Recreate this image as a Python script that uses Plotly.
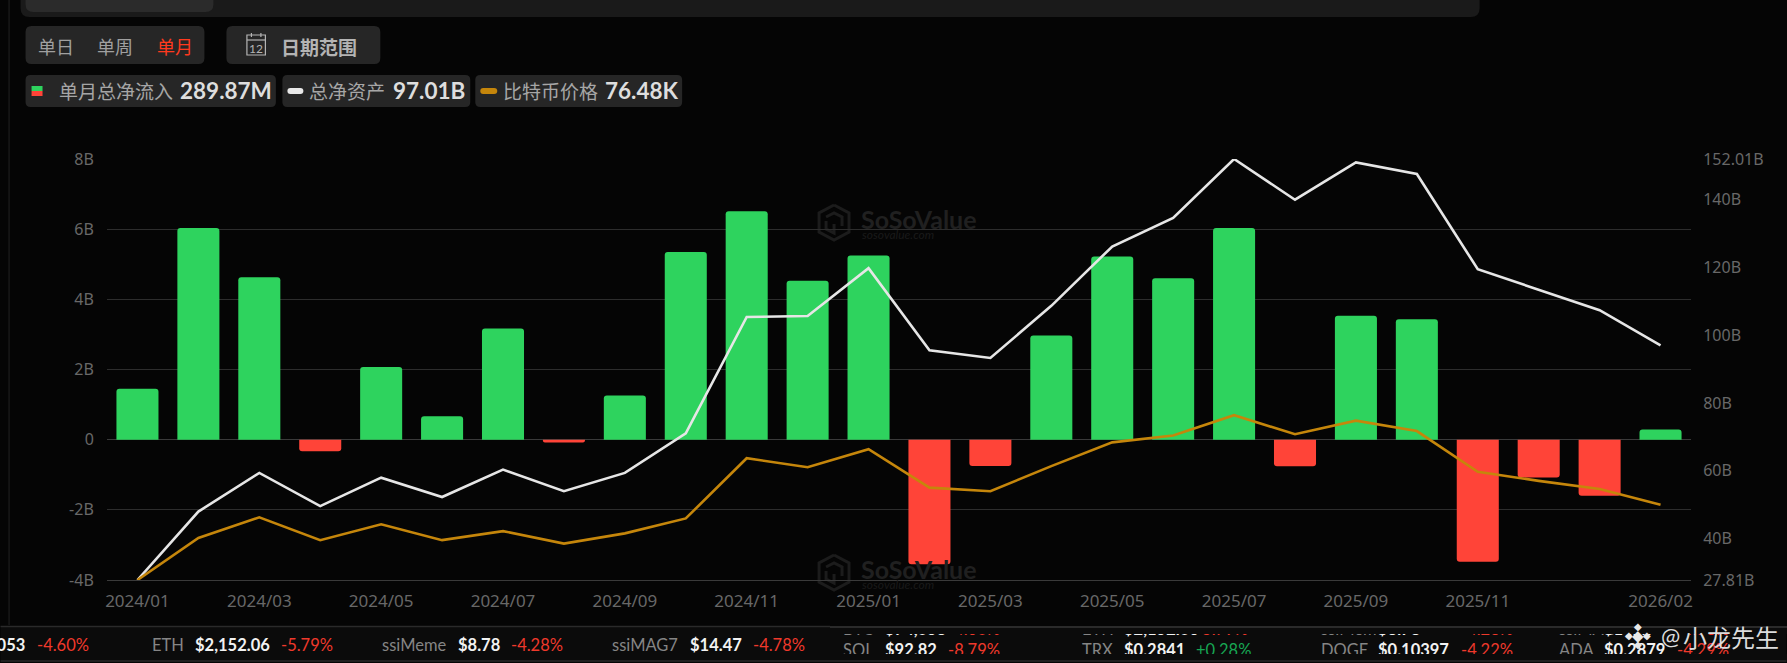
import plotly.graph_objects as go

months = ["2024/01","2024/02","2024/03","2024/04","2024/05","2024/06","2024/07","2024/08","2024/09","2024/10","2024/11","2024/12",
          "2025/01","2025/02","2025/03","2025/04","2025/05","2025/06","2025/07","2025/08","2025/09","2025/10","2025/11","2025/12",
          "2026/01","2026/02"]
net_inflow_b = [1.45,6.03,4.63,-0.33,2.07,0.67,3.17,-0.08,1.26,5.35,6.51,4.53,5.25,-3.55,-0.75,2.97,5.22,4.60,6.03,-0.76,3.53,3.43,-3.48,-1.08,-1.60,0.29]
net_assets_b = [27.81,48.0,59.4,49.6,58.0,52.3,60.4,54.0,59.4,71.1,105.4,105.7,119.8,95.6,93.3,108.7,126.2,134.6,152.01,140.0,151.0,147.6,119.5,113.4,107.4,97.01]
btc_price_k = [43.2,61.8,70.9,60.8,67.8,60.8,64.8,59.3,63.8,70.4,97.0,93.0,101.0,84.0,82.4,93.5,104.0,107.0,116.0,107.6,113.6,109.0,91.0,87.0,83.4,76.48]

x_ticks = ["2024/01","2024/03","2024/05","2024/07","2024/09","2024/11","2025/01","2025/03","2025/05","2025/07","2025/09","2025/11","2026/02"]
left_ticks = [-4,-2,0,2,4,6,8]
left_labels = ["-4B","-2B","0","2B","4B","6B","8B"]
right_ticks = [27.81,40,60,80,100,120,140,152.01]
right_labels = ["27.81B","40B","60B","80B","100B","120B","140B","152.01B"]

W, H = 1787, 663
L, R, T, B = 106.5, 1691.5, 159, 580
BG = "#050505"; STRIP = "#0b0b0b"; PILL = "#262626"
CJK = "Noto Sans CJK SC"

def px(x): return (x - L) / (R - L)
def py(y): return 1 - (y - T) / (B - T)

shapes, annots = [], []

def rect(x0, y0, x1, y1, fill, r=0, layer="below", line=None, lw=0):
    if r:
        p = (f"M {px(x0+r)} {py(y0)} L {px(x1-r)} {py(y0)} Q {px(x1)} {py(y0)} {px(x1)} {py(y0+r)} "
             f"L {px(x1)} {py(y1-r)} Q {px(x1)} {py(y1)} {px(x1-r)} {py(y1)} L {px(x0+r)} {py(y1)} "
             f"Q {px(x0)} {py(y1)} {px(x0)} {py(y1-r)} L {px(x0)} {py(y0+r)} Q {px(x0)} {py(y0)} {px(x0+r)} {py(y0)} Z")
        shapes.append(dict(type="path", path=p, xref="paper", yref="paper", fillcolor=fill, layer=layer,
                           line=dict(width=lw, color=line or fill)))
    else:
        shapes.append(dict(type="rect", xref="paper", yref="paper", x0=px(x0), x1=px(x1), y0=py(y0), y1=py(y1),
                           fillcolor=fill, layer=layer, line=dict(width=lw, color=line or fill)))

def text(x, y, s, size=16, color="#aaa", font="Lato", anchor="left", bold=False, italic=False):
    t = f"<b>{s}</b>" if bold else s
    if italic: t = f"<i>{t}</i>"
    annots.append(dict(xref="paper", yref="paper", x=px(x), y=py(y), text=t, showarrow=False, xanchor=anchor,
                       yanchor="middle", borderpad=0, borderwidth=0, font=dict(size=size, color=color, family=font)))

def cover(x0, y0, x1, y1, color):
    annots.append(dict(xref="paper", yref="paper", x=px(x0), y=py(y0), text=" ", showarrow=False, xanchor="left",
                       yanchor="top", width=x1-x0, height=y1-y0, bgcolor=color, borderpad=0, borderwidth=0,
                       font=dict(size=1, color=color)))

def polyline(points, color, w, layer="below"):
    p = "M " + " L ".join(f"{px(a)} {py(b)}" for a, b in points)
    shapes.append(dict(type="path", path=p, xref="paper", yref="paper", layer=layer, line=dict(color=color, width=w)))

# page chrome
polyline([(8.5, 0), (8.5, 625)], "#222222", 1)
rect(20, -10, 1480, 17, "#1a1a1a", r=9)
rect(25, -10, 213, 12, "#2b2b2b", r=8)
rect(25, 26, 204, 64, PILL, r=6)
rect(226, 26, 380, 64, PILL, r=6)
text(55, 46, "单日", 18, "#a0a0a0", CJK, "center")
text(115, 46, "单周", 18, "#a0a0a0", CJK, "center")
text(174.5, 46, "单月", 18, "#ff3a1e", CJK, "center")
text(319, 46, "日期范围", 19, "#b4b4b4", CJK, "center", bold=True)
rect(246.5, 35, 265, 55, PILL, line="#b4b4b4", lw=1.2)
polyline([(246.5, 40), (265, 40)], "#b4b4b4", 1.2)
polyline([(251, 33), (251, 37)], "#b4b4b4", 1.2)
polyline([(260.5, 33), (260.5, 37)], "#b4b4b4", 1.2)
text(256, 48, "12", 12, "#b4b4b4", "Lato", "center")

# legend pills
rect(25, 75, 275.5, 107, PILL, r=5)
rect(282, 75, 470, 107, PILL, r=5)
rect(475, 75, 682, 107, PILL, r=5)
rect(31, 86, 42, 91, "#2ed35e")
rect(31, 91, 42, 96, "#ff4438")
rect(287, 88, 303, 94, "#e8e8e8", r=3)
rect(480, 88, 497, 94, "#c5860b", r=3)
text(58, 91, "单月总净流入", 19, "#a6a6a6", CJK)
text(180, 91, "289.87M", 22.5, "#dedede", "Lato", bold=True)
text(309, 91, "总净资产", 19, "#a6a6a6", CJK)
text(393, 91, "97.01B", 22.5, "#dedede", "Lato", bold=True)
text(503, 91, "比特币价格", 19, "#a6a6a6", CJK)
text(605, 91, "76.48K", 22.5, "#dedede", "Lato", bold=True)

# SoSoValue watermarks
for dy in (0, 350):
    hexa = [(834, 205+dy), (849, 213+dy), (849, 232+dy), (834, 240+dy), (819, 232+dy), (819, 213+dy), (834, 205+dy)]
    polyline(hexa, "#1c1c1c", 3)
    polyline([(826, 217+dy), (834, 213+dy), (842, 217+dy), (842, 226+dy)], "#1c1c1c", 3)
    polyline([(826, 221+dy), (826, 229+dy), (834, 233+dy), (834, 224+dy)], "#1c1c1c", 3)
    text(861, 219+dy, "SoSoValue", 25, "#202020", "Lato", bold=True)
    text(862, 234+dy, "sosovalue.com", 12, "#1a1a1a", "Lato", italic=True)

# ticker strip
rect(0, 626, W, 661, STRIP, line="#2a2a2a", lw=0)
polyline([(0, 626.5), (W, 626.5)], "#2a2a2a", 1.5)
polyline([(0, 661), (W, 661)], "#2a2a2a", 1.5)
LBL, VAL, RED, GRN = "#858585", "#f2f2f2", "#f0392b", "#17a653"
TS = 16.5
text(24, 645, "<b>$74,053</b>", TS, VAL, "Lato", "right")
text(36, 645, "-4.60%", TS, RED)
for lx, label, vx, value, cx, change in [(152, "ETH", 195, "$2,152.06", 281, "-5.79%"),
                                         (382, "ssiMeme", 458, "$8.78", 511, "-4.28%"),
                                         (612, "ssiMAG7", 690, "$14.47", 753, "-4.78%")]:
    text(lx, 645, label, TS, LBL)
    text(vx, 645, value, TS, VAL, bold=True)
    text(cx, 645, change, TS, RED)
columns = [(843, 885, 948), (1082, 1124, 1196), (1321, 1378, 1461), (1559, 1604, 1677)]
upper = [("BTC", "$74,053", "-4.60%", RED), ("ETH", "$2,152.06", "-5.79%", RED), ("ssiMeme", "$8.78", "-4.28%", RED), ("ssiMAG7", "$14.47", "-4.78%", RED)]
lower = [("SOL", "$92.82", "-8.79%", RED), ("TRX", "$0.2841", "+0.28%", GRN), ("DOGE", "$0.10397", "-4.22%", RED), ("ADA", "$0.2879", "-4.29%", RED)]
for yrow, row in ((629, upper), (649.5, lower)):
    for (lx, vx, cx), (label, value, change, col) in zip(columns, row):
        text(lx, yrow, label, TS, LBL)
        text(vx, yrow, value, TS, VAL, bold=True)
        text(cx, yrow, change, TS, col)
cover(830, 612, W, 626, BG)
cover(830, 626, W, 627.5, "#2a2a2a")
cover(830, 627.5, W, 633, STRIP)
cover(830, 654, W, 660.2, STRIP)

# author stamp
for dx, dy, s in [(0, 0, 15), (0, -9, 10), (0, 9, 10), (-9, 0, 10), (9, 0, 10)]:
    text(1638.5+dx, 635.5+dy, "◆", s, "#e8e8e8", "DejaVu Sans", "center")
text(1661, 636, "@", 23, "#dcdcdc", "Lato")
text(1683, 636, "小龙先生", 24, "#dcdcdc", CJK)

fig = go.Figure()
fig.add_bar(x=months, y=net_inflow_b, width=0.69, yaxis="y",
            marker=dict(color=["#2ed35e" if v >= 0 else "#ff4438" for v in net_inflow_b], line=dict(width=0)))
fig.add_scatter(x=months, y=btc_price_k, mode="lines", yaxis="y3", line=dict(color="#c5860b", width=2.6))
fig.add_scatter(x=months, y=net_assets_b, mode="lines", yaxis="y2", line=dict(color="#e6e6e6", width=2.6))

tick_font = dict(size=16, color="#686868", family="Noto Sans")
x_font = dict(size=17, color="#686868", family="Noto Sans")
fig.update_layout(
    width=W, height=H, margin=dict(l=L, r=W-R, t=T, b=H-B, pad=0, autoexpand=False),
    paper_bgcolor=BG, plot_bgcolor=BG, showlegend=False, barcornerradius=3, shapes=shapes, annotations=annots,
    xaxis=dict(type="category", categoryorder="array", categoryarray=months, range=[-0.5, 25.5], tickmode="array",
               tickvals=x_ticks, ticktext=x_ticks, tickangle=0, showgrid=False, zeroline=False, showline=True,
               linecolor="#3a3a3a", linewidth=1, ticks="outside", ticklen=6, tickcolor="rgba(0,0,0,0)", tickfont=x_font),
    yaxis=dict(range=[-4, 8], tickmode="array", tickvals=left_ticks, ticktext=left_labels, gridcolor="#2d2d2d",
               gridwidth=1, zeroline=True, zerolinecolor="#3a3a3a", zerolinewidth=1, ticks="outside", ticklen=9,
               tickcolor="rgba(0,0,0,0)", tickfont=tick_font),
    yaxis2=dict(overlaying="y", side="right", range=[27.81, 152.01], tickmode="array", tickvals=right_ticks,
                ticktext=right_labels, showgrid=False, zeroline=False, ticks="outside", ticklen=8,
                tickcolor="rgba(0,0,0,0)", tickfont=tick_font),
    yaxis3=dict(overlaying="y", range=[43.2, 229.2], visible=False),
)
fig.write_html("out.html", config=dict(displayModeBar=False),
               post_script="document.body.style.margin='0';document.body.style.overflow='hidden';document.body.style.background='#050505';")
